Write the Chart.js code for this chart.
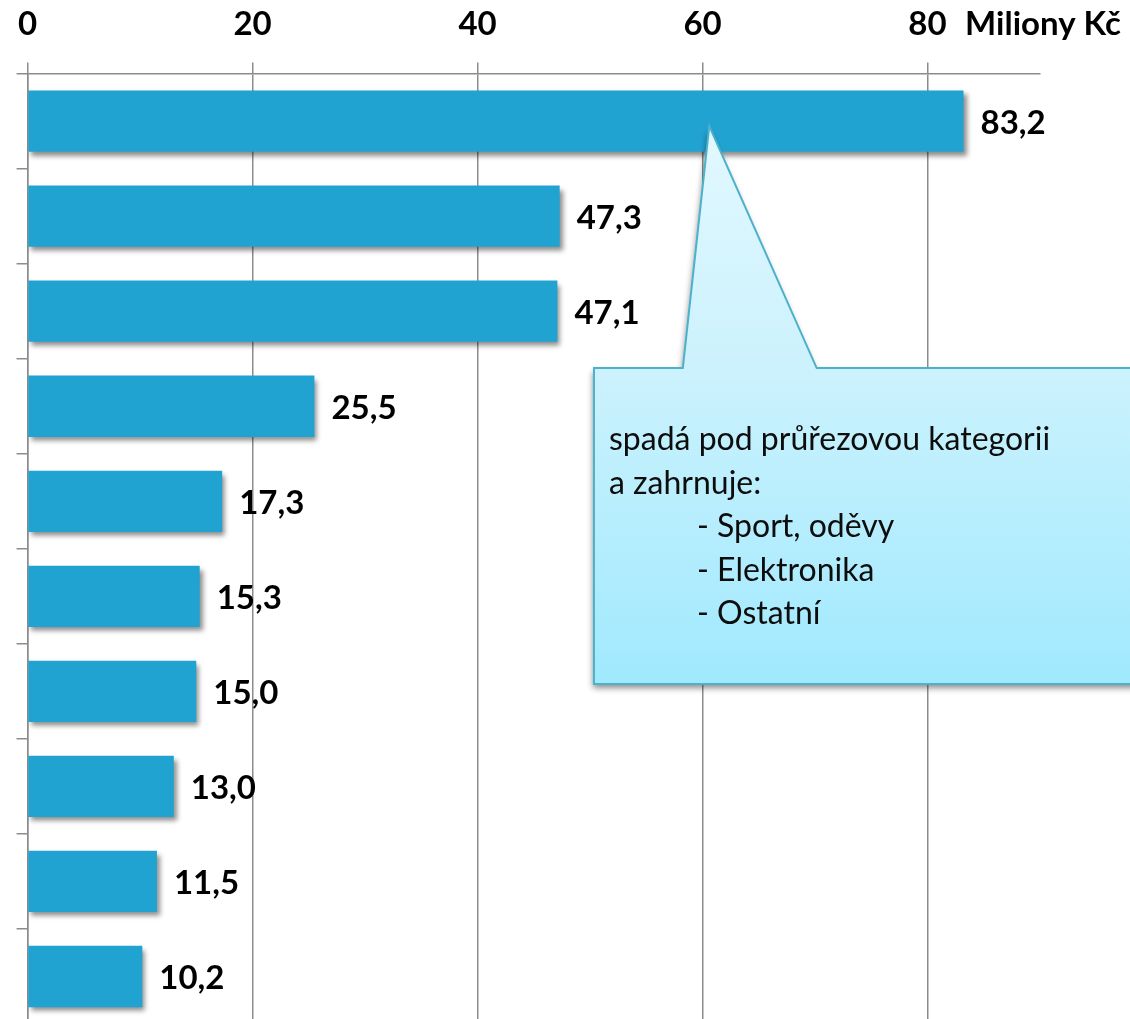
<!DOCTYPE html>
<html lang="cs">
<head>
<meta charset="utf-8">
<title>Miliony Kč</title>
<script src="https://cdn.jsdelivr.net/npm/chart.js@4/dist/chart.umd.min.js"></script>
<style>
  html, body { margin: 0; padding: 0; background: #fff; overflow: hidden; }
  #wrap { width: 1130px; height: 1019px; overflow: hidden; }
  canvas { display: block; margin-top: -18px; }
</style>
</head>
<body>
<div id="wrap"><canvas id="chart" width="1130" height="1042"></canvas></div>
<script>
// Pořadí kategorií (popisky se nezobrazují)
const categories = ['1', '2', '3', '4', '5', '6', '7', '8', '9', '10'];
// Hodnoty v milionech Kč
const values = [83.2, 47.3, 47.1, 25.5, 17.3, 15.3, 15.0, 13.0, 11.5, 10.2];
// Značky na vodorovné ose; poslední pozice nese jednotku
const tickValues = [0, 20, 40, 60, 80, 90];
const unitLabel = 'Miliony Kč';
// Text bubliny
const calloutLines = [
  { text: 'spadá pod průřezovou kategorii', indent: false },
  { text: 'a zahrnuje:', indent: false },
  { text: '- Sport, oděvy', indent: true },
  { text: '- Elektronika', indent: true },
  { text: '- Ostatní', indent: true }
];

const FONT = 'Lato, "Open Sans", "DejaVu Sans", sans-serif';
const GRID = '#8c8c8c';
const BAR = '#21a3d1';
const TICK_SIZE = 33;
const TICK_PAD = 18;
const TICK_LEN = 11;

const fmt = v => v.toFixed(1).replace('.', ',');

// Stín pod sloupci
const barShadow = {
  id: 'barShadow',
  beforeDatasetsDraw(chart) {
    const ctx = chart.ctx;
    ctx.save();
    ctx.shadowColor = 'rgba(0,0,0,0.45)';
    ctx.shadowBlur = 5;
    ctx.shadowOffsetX = 3;
    ctx.shadowOffsetY = 4;
  },
  afterDatasetsDraw(chart) {
    chart.ctx.restore();
  }
};

// Hodnoty za koncem sloupců
const valueLabels = {
  id: 'valueLabels',
  afterDatasetsDraw(chart) {
    const ctx = chart.ctx;
    const meta = chart.getDatasetMeta(0);
    ctx.save();
    ctx.font = 'bold 33px ' + FONT;
    ctx.fillStyle = '#000';
    ctx.textAlign = 'left';
    ctx.textBaseline = 'middle';
    meta.data.forEach((bar, i) => {
      ctx.fillText(fmt(values[i]), bar.x + 17, bar.y + 2);
    });
    ctx.restore();
  }
};

// Jednotka na konci vodorovné osy
const unitTitle = {
  id: 'unitTitle',
  afterDraw(chart) {
    const ctx = chart.ctx;
    const xs = chart.scales.x;
    const y = xs.bottom - TICK_LEN - TICK_PAD - TICK_SIZE * 1.2 / 2;
    ctx.save();
    ctx.font = 'bold ' + TICK_SIZE + 'px ' + FONT;
    ctx.fillStyle = '#000';
    ctx.textAlign = 'center';
    ctx.textBaseline = 'middle';
    ctx.fillText(unitLabel, xs.getPixelForValue(tickValues[tickValues.length - 1]) + 3, y);
    ctx.restore();
  }
};

// Bublina s vysvětlivkou
const callout = {
  id: 'callout',
  afterDraw(chart) {
    const ctx = chart.ctx;
    const xs = chart.scales.x;
    const ys = chart.scales.y;
    const a = chart.chartArea;
    const tipX = xs.getPixelForValue(60.6);
    const tipY = ys.getPixelForValue(0) + 5;
    const left = xs.getPixelForValue(50.35);
    const baseL = xs.getPixelForValue(58.25);
    const baseR = xs.getPixelForValue(70.15);
    const right = chart.width + 10;
    const top = a.top + 294.5;
    const bottom = a.top + 610.5;

    const path = () => {
      ctx.beginPath();
      ctx.moveTo(left, top);
      ctx.lineTo(baseL, top);
      ctx.lineTo(tipX, tipY);
      ctx.lineTo(baseR, top);
      ctx.lineTo(right, top);
      ctx.lineTo(right, bottom);
      ctx.lineTo(left, bottom);
      ctx.closePath();
    };

    ctx.save();
    const g = ctx.createLinearGradient(0, tipY, 0, bottom);
    g.addColorStop(0, '#e2f8fe');
    g.addColorStop(0.43, '#ccf2fd');
    g.addColorStop(1, '#a0e9fe');
    path();
    ctx.shadowColor = 'rgba(0,0,0,0.45)';
    ctx.shadowBlur = 6;
    ctx.shadowOffsetX = -1;
    ctx.shadowOffsetY = 4;
    ctx.fillStyle = g;
    ctx.fill();
    ctx.shadowColor = 'transparent';
    ctx.lineWidth = 2;
    ctx.strokeStyle = '#4cb1ca';
    ctx.lineJoin = 'miter';
    path();
    ctx.stroke();

    ctx.fillStyle = '#0d0d0d';
    ctx.font = '32px ' + FONT;
    ctx.textBaseline = 'alphabetic';
    ctx.textAlign = 'left';
    calloutLines.forEach((ln, i) => {
      ctx.fillText(ln.text, ln.indent ? left + 103 : left + 15, a.top + 376.5 + i * 43.5);
    });
    ctx.restore();
  }
};

new Chart(document.getElementById('chart'), {
  type: 'bar',
  data: {
    labels: categories,
    datasets: [{
      data: values,
      backgroundColor: BAR,
      borderWidth: 0,
      barPercentage: 0.645,
      categoryPercentage: 1
    }]
  },
  options: {
    indexAxis: 'y',
    responsive: false,
    animation: false,
    devicePixelRatio: 1,
    layout: { padding: { top: 5, left: 16, right: 90, bottom: 0 } },
    plugins: {
      legend: { display: false },
      tooltip: { enabled: false },
      title: { display: false }
    },
    scales: {
      x: {
        position: 'top',
        min: 0,
        max: 90,
        afterBuildTicks(scale) {
          scale.ticks = tickValues.map(v => ({ value: v }));
        },
        ticks: {
          autoSkip: false,
          maxRotation: 0,
          padding: TICK_PAD,
          color: '#000',
          font: { family: FONT, size: TICK_SIZE, weight: 'bold' },
          callback: v => (v === tickValues[tickValues.length - 1] ? '' : String(v))
        },
        grid: {
          color: c => (c.tick && c.tick.value === 90 ? 'rgba(0,0,0,0)' : GRID),
          lineWidth: 1.5,
          tickLength: TICK_LEN
        },
        border: { display: true, color: GRID, width: 1.5 }
      },
      y: {
        ticks: { display: false },
        grid: {
          offset: true,
          drawOnChartArea: false,
          color: GRID,
          lineWidth: 1.5,
          tickLength: TICK_LEN
        },
        border: { display: true, color: GRID, width: 1.5 }
      }
    }
  },
  plugins: [barShadow, valueLabels, unitTitle, callout]
});
</script>
</body>
</html>
